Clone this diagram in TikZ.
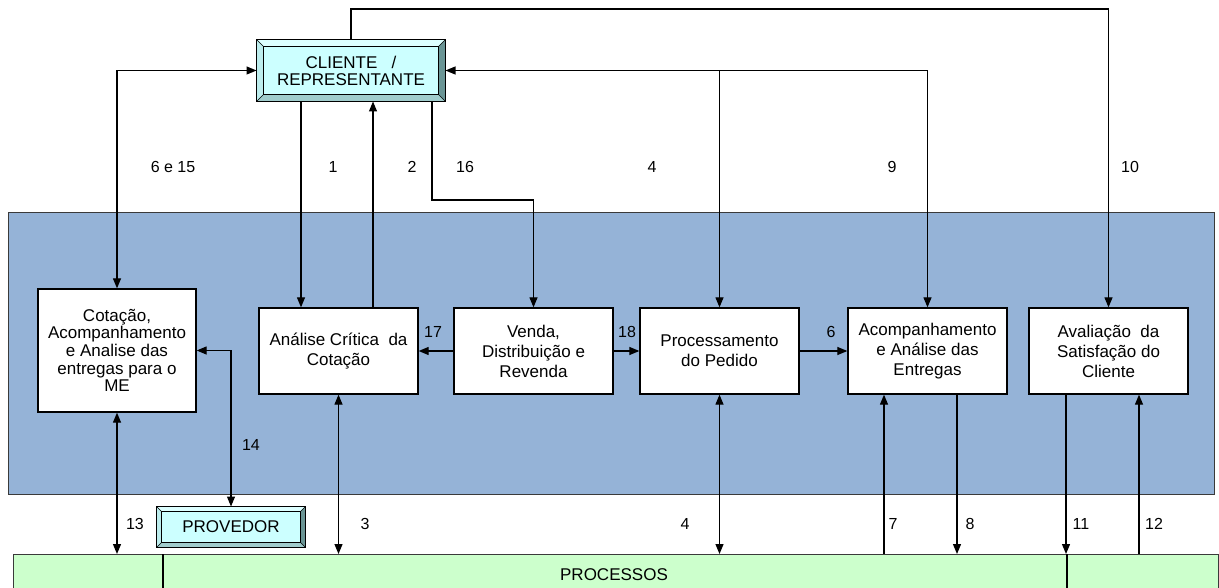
\documentclass[tikz,border=0pt]{standalone}
\usepackage{fontspec}
\setmainfont{Liberation Sans}
\usetikzlibrary{arrows.meta,calc}

\definecolor{panelblue}{HTML}{95B3D7}
\definecolor{procgreen}{HTML}{CCFFCC}
\definecolor{bevelface}{HTML}{CCFFFF}
\definecolor{bevelhi}{HTML}{DDFFFF}
\definecolor{bevelleft}{HTML}{BDEDED}
\definecolor{bevelright}{HTML}{6A9595}
\definecolor{bevelbot}{HTML}{A0CCCC}
\definecolor{edge}{HTML}{3A3A3A}

\tikzset{
  every node/.style={font=\fontsize{17}{20}\selectfont},
  stepbox/.style={draw=black, line width=1.3pt, fill=white, align=center, inner sep=0pt,
    minimum width=159, minimum height=86},
  tightbox/.style={stepbox, font=\fontsize{17}{17.7}\selectfont},
  bevelnode/.style={draw=black, line width=1pt, fill=bevelface, align=center, inner sep=0pt,
    font=\fontsize{17}{17}\selectfont},
  lbl/.style={font=\fontsize{16}{16}\selectfont, inner sep=0pt},
  link/.style={line width=1.2pt, draw=black},
  arr/.style={link, -{Triangle[length=10pt,width=8pt]}},
  darr/.style={link, {Triangle[length=10pt,width=8pt]}-{Triangle[length=10pt,width=8pt]}},
}

% raised bevel around a rectangular node: #1 node name, #2 bevel depth
\newcommand\bevelize[2]{%
  \fill[bevelhi] (#1.north west) -- (#1.north east) -- ($(#1.north east)+(-#2,#2)$) -- ($(#1.north west)+(#2,#2)$) -- cycle;
  \fill[bevelleft] (#1.north west) -- ($(#1.north west)+(#2,#2)$) -- ($(#1.south west)+(#2,-#2)$) -- (#1.south west) -- cycle;
  \fill[bevelright] (#1.north east) -- ($(#1.north east)+(-#2,#2)$) -- ($(#1.south east)+(-#2,-#2)$) -- (#1.south east) -- cycle;
  \fill[bevelbot] (#1.south west) -- ($(#1.south west)+(#2,-#2)$) -- ($(#1.south east)+(-#2,-#2)$) -- (#1.south east) -- cycle;
  \draw[line width=1pt] (#1.north west) rectangle (#1.south east);
  \draw[line width=0.8pt] ($(#1.north west)+(#2,#2)$) rectangle ($(#1.south east)+(-#2,-#2)$);
  \draw[line width=0.6pt] (#1.north west) -- ++(#2,#2) (#1.north east) -- ++(-#2,#2)
    (#1.south west) -- ++(#2,-#2) (#1.south east) -- ++(-#2,-#2);
}

\begin{document}
\begin{tikzpicture}[x=1pt, y=-1pt]
\useasboundingbox (0,0) rectangle (1219,588);
\clip (0,0) rectangle (1219,588);

% background panel and process bar
\node[draw=edge, fill=panelblue, line width=1.2pt, minimum width=1206, minimum height=282,
      anchor=north west, inner sep=0pt] (panel) at (8,212) {};
\node[draw=edge, fill=procgreen, line width=1.2pt, minimum width=1205, minimum height=50,
      anchor=north west, inner sep=0pt] (proc) at (13,554) {};
\node[font=\fontsize{17}{17}\selectfont, inner sep=0pt] (proctxt) at (614,575) {PROCESSOS};
\coordinate (d1) at (163,0);
\coordinate (d2) at (1067,0);
\draw[line width=1.2pt] (proc.north -| d1) -- (proc.south -| d1);
\draw[line width=1.2pt] (proc.north -| d2) -- (proc.south -| d2);

% external parties
\node[bevelnode, minimum width=188, minimum height=61] (cli) at (351,70.5)
  {CLIENTE\ \ \ /\\REPRESENTANTE};
\bevelize{cli}{7}
\node[bevelnode, minimum width=148, minimum height=40] (prov) at (231,527) {PROVEDOR};
\bevelize{prov}{5}

% process steps
\node[tightbox, minimum width=158, minimum height=123] (cot) at (117,350.5)
  {Cota\c{c}\~ao,\\Acompanhamento\\e Analise das\\entregas para o\\ME};
\node[stepbox] (ana) at (338.5,351) {An\'alise Cr\'itica\ \ da\\Cota\c{c}\~ao};
\node[stepbox] (ven) at (533.5,351) {Venda,\\Distribui\c{c}\~ao e\\Revenda};
\node[stepbox] (pro) at (719.5,351) {Processamento\\do Pedido};
\node[stepbox] (aco) at (927.5,351) {Acompanhamento\\e An\'alise das\\Entregas};
\node[stepbox] (ava) at (1108.5,351) {Avalia\c{c}\~ao\ \ da\\Satisfa\c{c}\~ao do\\Cliente};

% helper positions
\coordinate (ytop) at (0,9);
\coordinate (y16) at (0,200);
\coordinate (x1) at (301,0);
\coordinate (x2) at (373,0);
\coordinate (x16) at (432,0);
\coordinate (x7) at (884,0);
\coordinate (x8) at (957,0);
\coordinate (x11) at (1066,0);
\coordinate (x12) at (1139,0);

% flows with the customer
\draw[arr] (cli.north) -- (cli.north |- ytop) -| (ava.north);
\draw[darr] (cli.west) -| (cot.north);
\draw[arr] (cli.south -| x1) -- (ana.north -| x1);
\draw[arr] (ana.north -| x2) -- (cli.south -| x2);
\draw[arr] (cli.south -| x16) -- (x16 |- y16) -| (ven.north);
\draw[darr] (cli.east) -| (aco.north);
\draw[arr] (cli.east -| pro.north) -- (pro.north);

% flows between steps
\draw[arr] (ven.west) -- (ana.east);
\draw[arr] (ven.east) -- (pro.west);
\draw[arr] (pro.east) -- (aco.west);
\draw[darr] (cot.east) -| (prov.north);

% flows with the processes
\draw[darr] (cot.south) -- (cot.south |- proc.north);
\draw[darr] (ana.south) -- (ana.south |- proc.north);
\draw[darr] (pro.south) -- (pro.south |- proc.north);
\draw[arr] (proc.north -| x7) -- (aco.south -| x7);
\draw[arr] (aco.south -| x8) -- (proc.north -| x8);
\draw[arr] (ava.south -| x11) -- (proc.north -| x11);
\draw[arr] (proc.north -| x12) -- (ava.south -| x12);

% flow numbers
\node[lbl] (n615) at (173,167) {6 e 15};
\node[lbl] (n1) at (333,167) {1};
\node[lbl] (n2) at (412,167) {2};
\node[lbl] (n16) at (465,167) {16};
\node[lbl] (n4a) at (652,167) {4};
\node[lbl] (n9) at (892,167) {9};
\node[lbl] (n10) at (1130,167) {10};
\node[lbl] (n17) at (433,332) {17};
\node[lbl] (n18) at (627,332) {18};
\node[lbl] (n6) at (831,332) {6};
\node[lbl] (n14) at (251,445) {14};
\node[lbl] (n13) at (135,524) {13};
\node[lbl] (n3) at (365,524) {3};
\node[lbl] (n4b) at (685,524) {4};
\node[lbl] (n7) at (893,524) {7};
\node[lbl] (n8) at (970,524) {8};
\node[lbl] (n11) at (1081,524) {11};
\node[lbl] (n12) at (1154,524) {12};
\end{tikzpicture}
\end{document}
